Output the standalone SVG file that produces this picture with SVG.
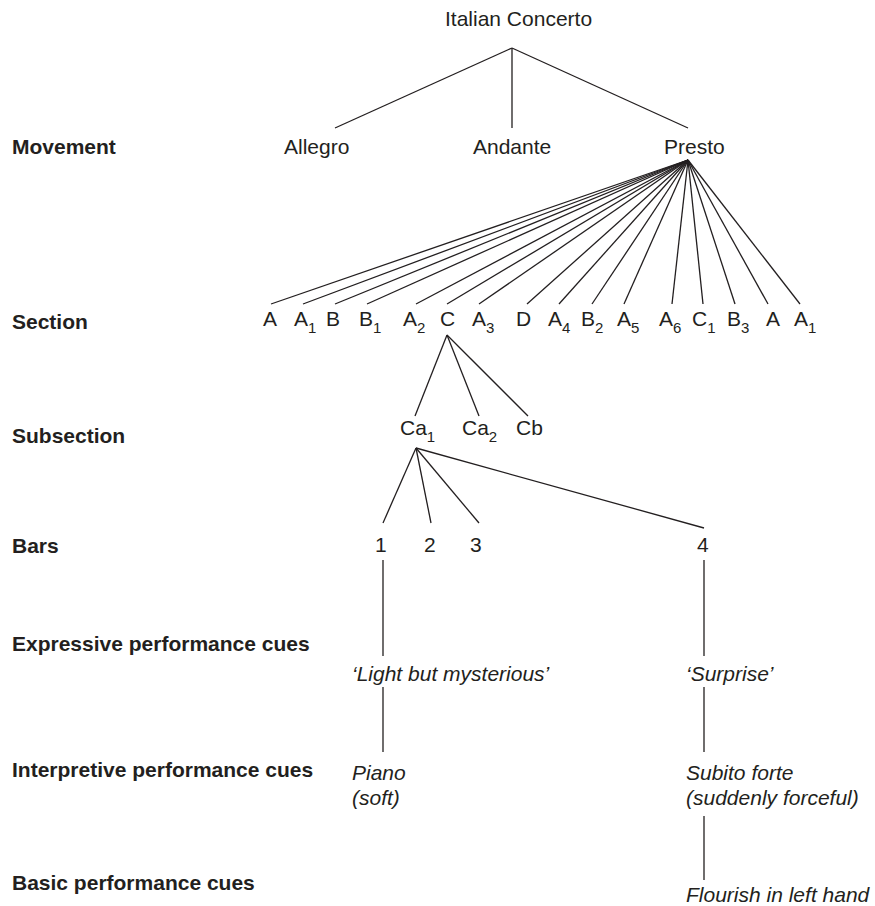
<svg xmlns="http://www.w3.org/2000/svg" width="875" height="906" viewBox="0 0 875 906">
<style>
text{font-family:"Liberation Sans",Arial,Helvetica,sans-serif;font-size:21px;fill:#231f20}
.lbl{font-weight:bold}
.it{font-style:italic}
.sub{font-size:15px}
#connectors line{stroke:#231f20;stroke-width:1.3;stroke-linecap:butt}
</style>
<rect width="875" height="906" fill="#ffffff"/>
<g id="labels">
<text class="lbl" x="12" y="154">Movement</text>
<text class="lbl" x="12" y="329">Section</text>
<text class="lbl" x="12" y="443">Subsection</text>
<text class="lbl" x="12" y="553">Bars</text>
<text class="lbl" x="12" y="651">Expressive performance cues</text>
<text class="lbl" x="12" y="777">Interpretive performance cues</text>
<text class="lbl" x="12" y="890">Basic performance cues</text>
</g>
<g id="connectors">
<line x1="512" y1="48" x2="335" y2="128"/>
<line x1="512" y1="48" x2="512" y2="128"/>
<line x1="512" y1="48" x2="688" y2="128"/>
<line x1="688" y1="160" x2="271" y2="304"/>
<line x1="688" y1="160" x2="303" y2="304"/>
<line x1="688" y1="160" x2="335" y2="304"/>
<line x1="688" y1="160" x2="367" y2="304"/>
<line x1="688" y1="160" x2="416" y2="304"/>
<line x1="688" y1="160" x2="447" y2="304"/>
<line x1="688" y1="160" x2="479" y2="304"/>
<line x1="688" y1="160" x2="527" y2="304"/>
<line x1="688" y1="160" x2="559" y2="304"/>
<line x1="688" y1="160" x2="592" y2="304"/>
<line x1="688" y1="160" x2="624" y2="304"/>
<line x1="688" y1="160" x2="672" y2="304"/>
<line x1="688" y1="160" x2="703" y2="304"/>
<line x1="688" y1="160" x2="735" y2="304"/>
<line x1="688" y1="160" x2="768" y2="304"/>
<line x1="688" y1="160" x2="800" y2="304"/>
<line x1="447" y1="335" x2="415" y2="416"/>
<line x1="447" y1="335" x2="479" y2="416"/>
<line x1="447" y1="335" x2="528" y2="416"/>
<line x1="416" y1="448" x2="383" y2="523"/>
<line x1="416" y1="448" x2="431" y2="523"/>
<line x1="416" y1="448" x2="479" y2="523"/>
<line x1="416" y1="448" x2="704" y2="528"/>
<line x1="383" y1="560" x2="383" y2="656"/>
<line x1="383" y1="687" x2="383" y2="752"/>
<line x1="704" y1="560" x2="704" y2="656"/>
<line x1="704" y1="687" x2="704" y2="752"/>
<line x1="704" y1="816" x2="704" y2="880"/>
</g>
<g id="root"><text x="445" y="26">Italian Concerto</text></g>
<g id="allegro"><text x="284" y="154">Allegro</text></g>
<g id="andante"><text x="473" y="154">Andante</text></g>
<g id="presto"><text x="664" y="154">Presto</text></g>
<g id="sec-A"><text x="263" y="326">A</text></g>
<g id="sec-A1"><text x="294" y="326">A<tspan class="sub" dy="7">1</tspan></text></g>
<g id="sec-B"><text x="326" y="326">B</text></g>
<g id="sec-B1"><text x="359" y="326">B<tspan class="sub" dy="7">1</tspan></text></g>
<g id="sec-A2"><text x="403" y="326">A<tspan class="sub" dy="7">2</tspan></text></g>
<g id="sec-C"><text x="440" y="326">C</text></g>
<g id="sec-A3"><text x="472" y="326">A<tspan class="sub" dy="7">3</tspan></text></g>
<g id="sec-D"><text x="516" y="326">D</text></g>
<g id="sec-A4"><text x="548" y="326">A<tspan class="sub" dy="7">4</tspan></text></g>
<g id="sec-B2"><text x="581" y="326">B<tspan class="sub" dy="7">2</tspan></text></g>
<g id="sec-A5"><text x="617" y="326">A<tspan class="sub" dy="7">5</tspan></text></g>
<g id="sec-A6"><text x="659" y="326">A<tspan class="sub" dy="7">6</tspan></text></g>
<g id="sec-C1"><text x="692" y="326">C<tspan class="sub" dy="7">1</tspan></text></g>
<g id="sec-B3"><text x="727" y="326">B<tspan class="sub" dy="7">3</tspan></text></g>
<g id="sec-A-2"><text x="766" y="326">A</text></g>
<g id="sec-A1-2"><text x="794" y="326">A<tspan class="sub" dy="7">1</tspan></text></g>
<g id="sub-Ca1"><text x="400" y="435">Ca<tspan class="sub" dy="7">1</tspan></text></g>
<g id="sub-Ca2"><text x="462" y="435">Ca<tspan class="sub" dy="7">2</tspan></text></g>
<g id="sub-Cb"><text x="516" y="435">Cb</text></g>
<g id="bar-1"><text x="375" y="552">1</text></g>
<g id="bar-2"><text x="424" y="552">2</text></g>
<g id="bar-3"><text x="470" y="552">3</text></g>
<g id="bar-4"><text x="697" y="552">4</text></g>
<g id="expr-1"><text class="it" x="352" y="681">‘Light but mysterious’</text></g>
<g id="expr-4"><text class="it" x="686" y="681">‘Surprise’</text></g>
<g id="interp-1"><text class="it" x="352" y="780">Piano</text><text class="it" x="352" y="805">(soft)</text></g>
<g id="interp-4"><text class="it" x="686" y="780">Subito forte</text><text class="it" x="686" y="805">(suddenly forceful)</text></g>
<g id="basic-4"><text class="it" x="686" y="902">Flourish in left hand</text></g>
</svg>
